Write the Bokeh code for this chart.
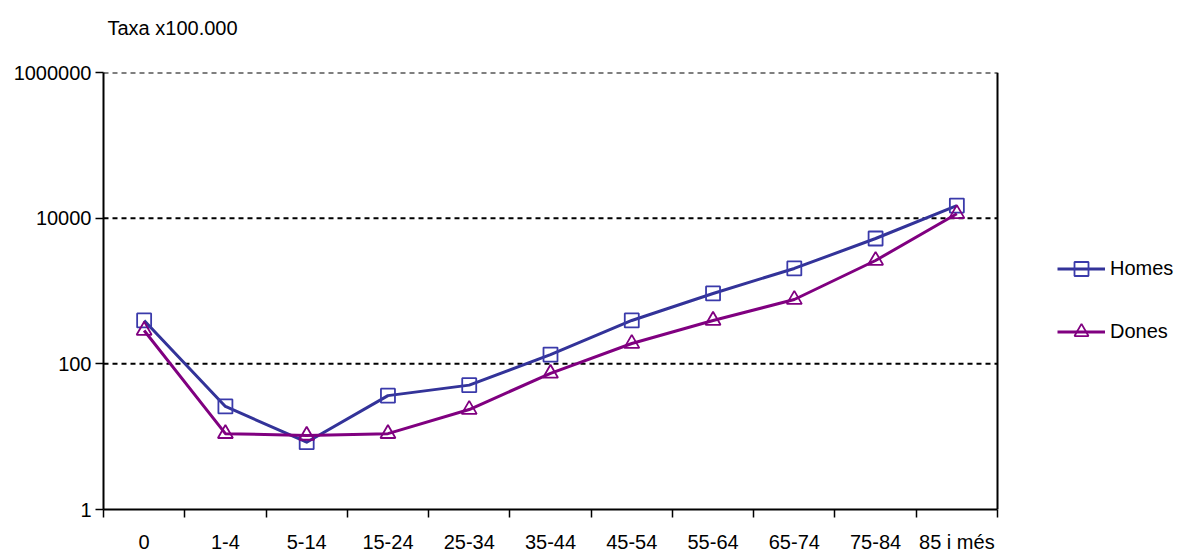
from bokeh.plotting import figure
from bokeh.models import (Range1d, FixedTicker, CustomJSTickFormatter,
                          Legend, LegendItem, ColumnDataSource, Span)
from bokeh.embed import file_html
from bokeh.resources import INLINE

categories = ["0", "1-4", "5-14", "15-24", "25-34", "35-44", "45-54",
              "55-64", "65-74", "75-84", "85 i més"]
homes = [394, 26, 8.4, 36.6, 51, 134, 394, 925, 2040, 5260, 14900]
dones = [287, 11, 10.4, 11, 23.6, 74, 190, 394, 764, 2624, 11500]
y_ticks = [1, 100, 10000, 1000000]

FONT = "Liberation Sans"
n = len(categories)
xs = [i + 0.5 for i in range(n)]
src = ColumnDataSource(dict(x=xs, homes=homes, dones=dones))

W, H = 1178, 555
LEFT, TOP, BOTTOM = 103, 72, 46
PLOT_RIGHT = 997          # pixel where the plot box ends
frame_w = W - LEFT
x_end = n * frame_w / (PLOT_RIGHT - LEFT)

p = figure(width=W, height=H, output_backend="svg", toolbar_location=None,
           x_range=Range1d(0, x_end), y_range=Range1d(1, 1e6), y_axis_type="log",
           min_border_left=LEFT, min_border_right=0, min_border_top=TOP,
           min_border_bottom=BOTTOM)
p.outline_line_color = None
p.background_fill_color = "white"

# trailing blank line lifts the title well above the plot box
p.title.text = "Taxa x100.000\n "
p.title.align = "left"
p.title.offset = 4
p.title.standoff = 24
p.title.text_font = FONT
p.title.text_font_size = "20px"
p.title.text_font_style = "normal"
p.title.text_color = "black"

# x axis: labels at centres, boundary ticks as minor ticks
xa = p.xaxis[0]
xa.bounds = (0, n)
xa.ticker = FixedTicker(ticks=xs, minor_ticks=list(range(n + 1)))
xa.formatter = CustomJSTickFormatter(args=dict(cats=categories),
                                     code="return cats[Math.floor(tick)];")
xa.major_tick_out = 0
xa.major_tick_in = 0
xa.minor_tick_out = 8
xa.minor_tick_in = 0
xa.minor_tick_line_color = "black"
xa.minor_tick_line_width = 1.5
xa.axis_line_color = "black"
xa.axis_line_width = 2
xa.major_label_standoff = 13
xa.major_label_text_font = FONT
xa.major_label_text_font_size = "20px"
xa.major_label_text_color = "black"

ya = p.yaxis[0]
ya.ticker = FixedTicker(ticks=y_ticks, minor_ticks=[])
ya.formatter = CustomJSTickFormatter(code="return tick.toFixed(0);")
ya.major_tick_out = 8
ya.major_tick_in = 0
ya.major_tick_line_color = "black"
ya.major_tick_line_width = 1.5
ya.axis_line_color = "black"
ya.axis_line_width = 2
ya.major_label_standoff = 4
ya.major_label_text_font = FONT
ya.major_label_text_font_size = "20px"
ya.major_label_text_color = "black"

p.xgrid.visible = False
p.ygrid.visible = False

# dashed horizontal gridlines across the plot box only
p.segment(x0=[0] * (len(y_ticks) - 1), x1=[n] * (len(y_ticks) - 1),
          y0=y_ticks[1:], y1=y_ticks[1:], line_color="black",
          line_dash="5 4", line_width=2)
# right border of the plot box
p.add_layout(Span(location=n, dimension="height", line_color="black",
                  line_width=2))

hl = p.line("x", "homes", source=src, line_color="#333399", line_width=3,
            line_join="round")
hm = p.scatter("x", "homes", source=src, marker="square", size=14,
               line_color="#3a3aaa", line_width=1.8, fill_alpha=0)
dl = p.line("x", "dones", source=src, line_color="#800080", line_width=3,
            line_join="round")
dm = p.scatter("x", "dones", source=src, marker="triangle", size=15,
               line_color="#800080", line_width=1.8, fill_alpha=0)

legend = Legend(items=[LegendItem(label="Homes", renderers=[hl, hm]),
                       LegendItem(label="Dones", renderers=[dl, dm])],
                location=(954, 160), glyph_width=48, glyph_height=35,
                label_height=23, label_standoff=5, spacing=28, padding=0,
                margin=0, border_line_alpha=0, background_fill_alpha=0,
                label_text_font=FONT, label_text_font_size="20px",
                label_text_color="black")
p.add_layout(legend, "center")

open("out.html", "w").write(file_html(p, INLINE))
